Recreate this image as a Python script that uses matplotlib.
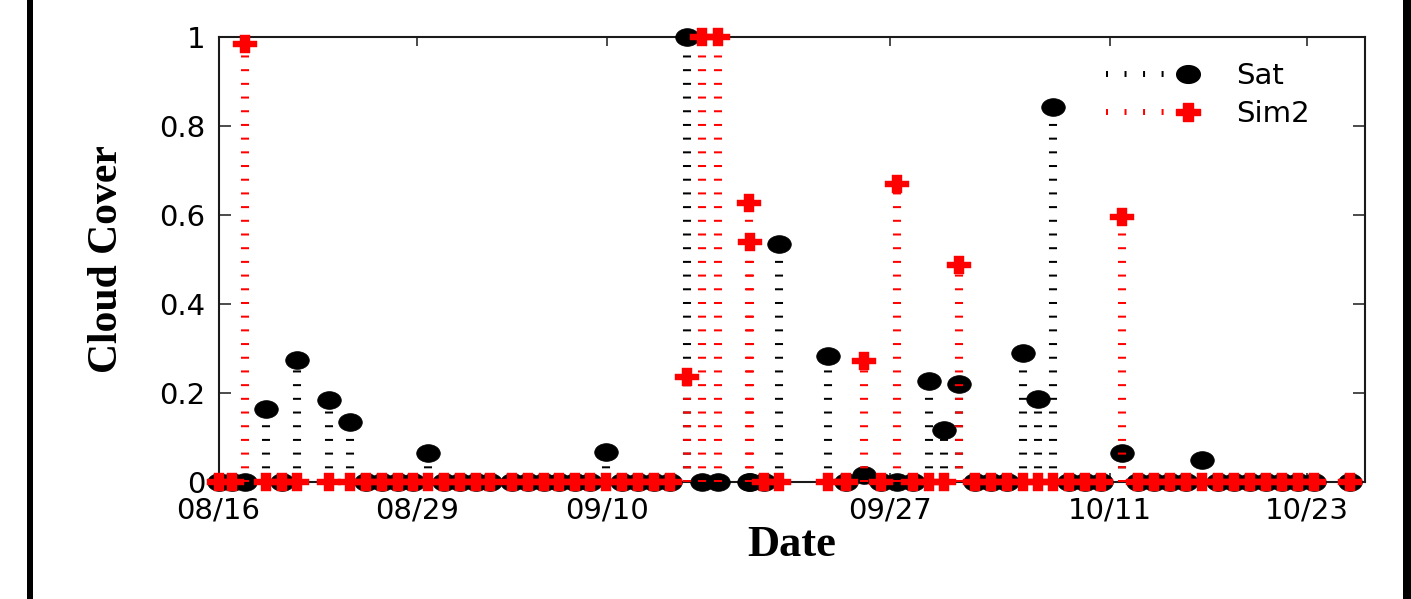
import matplotlib
matplotlib.use("Agg")
import matplotlib.pyplot as plt
import numpy as np
from matplotlib.path import Path
from matplotlib.lines import Line2D
from matplotlib.legend_handler import HandlerBase
from matplotlib.patches import Rectangle

plt.rcParams['lines.scale_dashes'] = False

# ---------------- data ----------------
# observation times, in days after 08/16 00:00
obs_days = [0.00, 0.84, 1.65, 2.94, 3.92, 4.90, 6.89, 8.18, 9.17, 10.17,
            11.16, 12.10, 13.05, 14.02, 15.02, 16.01, 16.90, 18.25, 19.25, 20.24,
            21.18, 22.17, 23.10, 24.10, 25.09, 26.09, 27.08, 28.08, 29.12, 30.05,
            31.04, 33.00, 33.04, 33.92, 34.88, 37.92, 39.02, 40.16, 41.20, 42.21,
            43.19, 44.20, 45.14, 46.07, 47.05, 48.04, 49.04, 50.01, 50.95, 51.92,
            52.89, 53.89, 54.88, 56.17, 57.18, 58.18, 59.17, 60.17, 61.16, 62.16,
            63.15, 64.15, 65.15, 66.14, 67.14, 68.13, 70.37]

sat_cover = [0, 0, 0, 0.163, 0, 0.273, 0.183, 0.133, 0, 0,
             0, 0, 0.064, 0, 0, 0, 0, 0, 0, 0,
             0, 0, 0, 0.067, 0, 0, 0, 0, 1.0, 0,
             0, 0, 0, 0, 0.533, 0.283, 0, 0.015, 0, 0,
             0, 0.227, 0.116, 0.219, 0, 0, 0, 0.290, 0.185, 0.842,
             0, 0, 0, 0.065, 0, 0, 0, 0, 0.049, 0,
             0, 0, 0, 0, 0, 0, 0]

sim2_cover = [0, 0, 0.983, 0, 0, 0, 0, 0, 0, 0,
              0, 0, 0, 0, 0, 0, 0, 0, 0, 0,
              0, 0, 0, 0, 0, 0, 0, 0, 0.236, 1.0,
              1.0, 0.627, 0.539, 0, 0, 0, 0, 0.270, 0, 0.668,
              0, 0, 0, 0.487, 0, 0, 0, 0, 0, 0,
              0, 0, 0, 0.594, 0, 0, 0, 0, 0, 0,
              0, 0, 0, 0, 0, 0, 0]

tick_days = [0.0, 12.34, 24.16, 41.76, 55.44, 67.67]
tick_labels = ['08/16', '08/29', '09/10', '09/27', '10/11', '10/23']
y_ticks = [0, 0.2, 0.4, 0.6, 0.8, 1.0]
y_tick_labels = ['0', '0.2', '0.4', '0.6', '0.8', '1']
series_names = ['Sat', 'Sim2']

# ---------------- marker shapes (horizontally stretched) ----------------
theta = np.linspace(0, 2 * np.pi, 65)
ellipse_marker = Path(np.column_stack([np.cos(theta), 0.75 * np.sin(theta)]), closed=True)
a, b, h = 0.40, 0.29, 0.74
plus_verts = [(-a, h), (a, h), (a, b), (1, b), (1, -b), (a, -b), (a, -h),
              (-a, -h), (-a, -b), (-1, -b), (-1, b), (-a, b), (-a, h)]
plus_marker = Path(plus_verts, closed=True)

RED = '#ff0000'
stem_dash = (0, (1.44, 8.42))
legend_dash = (0, (1.44, 11.9))

fig = plt.figure(figsize=(14.11, 5.99), dpi=100)
ax = fig.add_axes([218.5 / 1411, 117.3 / 599, (1365 - 218.5) / 1411, (562.5 - 117.3) / 599])

x = np.array(obs_days)
sat = np.array(sat_cover)
sim = np.array(sim2_cover)

# Sat stems + markers
ax.vlines(x, 0, sat, colors='black', linestyles=[stem_dash], linewidths=5.8,
          clip_on=False, zorder=2.6)
ax.plot(x, sat, linestyle='none', marker=ellipse_marker, markersize=17,
        markerfacecolor='black', markeredgecolor='black', markeredgewidth=0.5,
        clip_on=False, zorder=2.7)
# Sim2 stems + markers
ax.vlines(x, 0, sim, colors=RED, linestyles=[stem_dash], linewidths=5.8,
          clip_on=False, zorder=2.8)
ax.plot(x, sim, linestyle='none', marker=plus_marker, markersize=16.6,
        markerfacecolor=RED, markeredgecolor=RED, markeredgewidth=0.3,
        clip_on=False, zorder=2.9)

ax.set_xlim(0, 71.30)
ax.set_ylim(0, 1)
ax.set_xticks(tick_days)
ax.set_xticklabels(tick_labels)
ax.set_yticks(y_ticks)
ax.set_yticklabels(y_tick_labels)

for s in ax.spines.values():
    s.set_linewidth(1.5)
    s.set_color('#1a1a1a')
ax.tick_params(axis='both', direction='in', top=True, right=True, width=1.1,
               labelsize=21, labelcolor='black', colors='#1a1a1a')
ax.tick_params(axis='x', length=6.5, pad=10.5)
ax.tick_params(axis='y', length=8.6, pad=9.5)
for lab in ax.get_xticklabels() + ax.get_yticklabels():
    lab.set_fontfamily('DejaVu Sans')
    lab.set_color('black')

ax.set_xlabel('Date', fontfamily='Liberation Serif', fontweight='bold', fontsize=32)
ax.set_ylabel('Cloud Cover', fontfamily='Liberation Serif', fontweight='bold', fontsize=30)
ax.xaxis.set_label_coords(0.5, -0.097)
ax.yaxis.set_label_coords(-0.081, 0.5)


class StemHandler(HandlerBase):
    def create_artists(self, legend, orig_handle, xdescent, ydescent, width, height,
                       fontsize, trans):
        y = height / 2.0 - ydescent
        x0, x1 = -xdescent, width - xdescent
        line = Line2D([x0, x1], [y, y])
        line.update_from(orig_handle)
        line.set_marker('None')
        mk = Line2D([x1], [y])
        mk.update_from(orig_handle)
        mk.set_linestyle('None')
        line.set_transform(trans)
        mk.set_transform(trans)
        return [line, mk]


h_sat = Line2D([], [], color='black', linestyle=legend_dash, linewidth=4.3,
               dash_capstyle='butt', marker=ellipse_marker, markersize=17,
               markerfacecolor='black', markeredgecolor='black')
h_sim = Line2D([], [], color=RED, linestyle=legend_dash, linewidth=4.3,
               dash_capstyle='butt', marker=plus_marker, markersize=16.6,
               markerfacecolor=RED, markeredgecolor=RED)
leg = ax.legend([h_sat, h_sim], series_names, handler_map={Line2D: StemHandler()},
                loc='upper left', bbox_to_anchor=(0.774, 0.943), frameon=False,
                borderpad=0, borderaxespad=0, handlelength=2.81, handletextpad=1.65,
                labelspacing=0.35, prop={'family': 'DejaVu Sans', 'size': 21})

# black bars at left and right edges of the picture
fig.patches.append(Rectangle((27 / 1411, 0), 6 / 1411, 1, transform=fig.transFigure,
                             facecolor='black', edgecolor='none'))
fig.patches.append(Rectangle((1403 / 1411, 0), 8 / 1411, 1, transform=fig.transFigure,
                             facecolor='black', edgecolor='none'))

fig.savefig('out.png', dpi=100)
